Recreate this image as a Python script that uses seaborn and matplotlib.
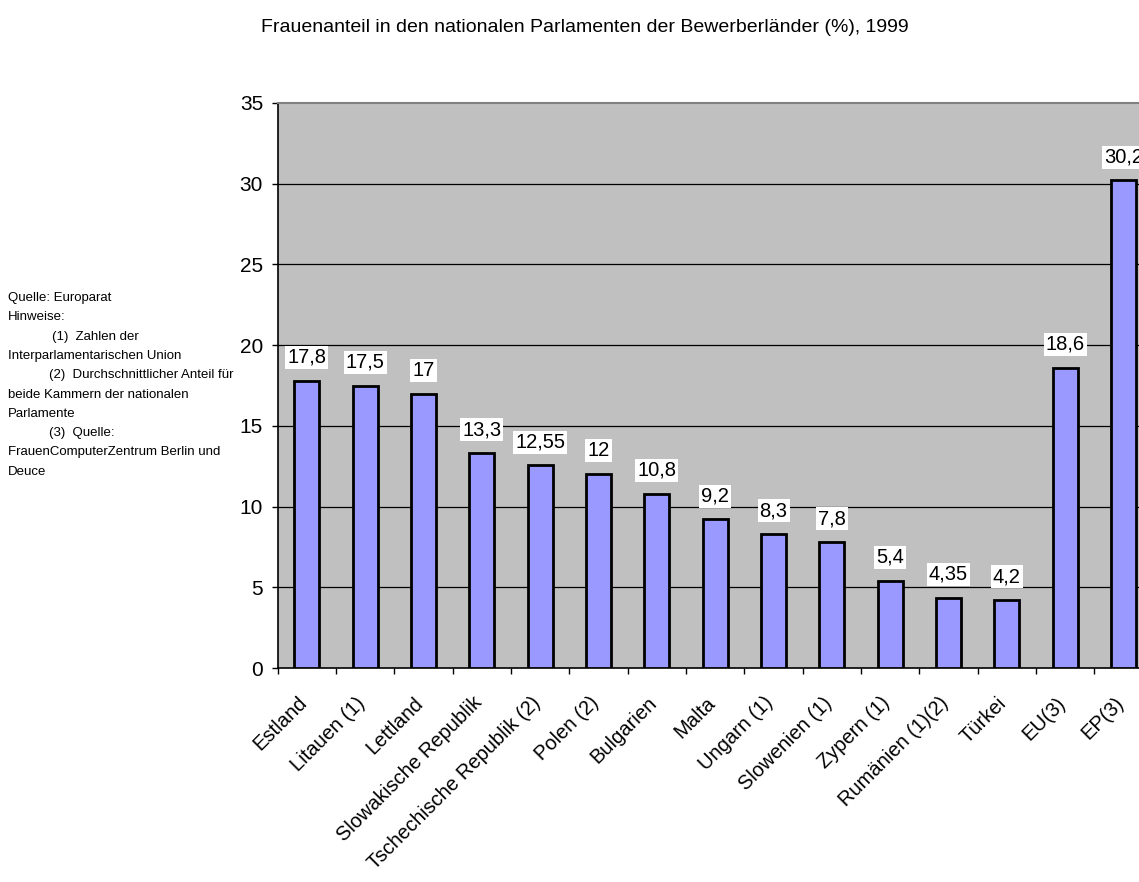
import matplotlib
matplotlib.use("Agg")
import matplotlib.pyplot as plt
import matplotlib.transforms as mtransforms
import seaborn as sns
import numpy as np

categories = ["Estland", "Litauen (1)", "Lettland", "Slowakische Republik",
              "Tschechische Republik (2)", "Polen (2)", "Bulgarien", "Malta",
              "Ungarn (1)", "Slowenien (1)", "Zypern (1)", "Rumänien (1)(2)",
              "Türkei", "EU(3)", "EP(3)"]
values = [17.8, 17.5, 17, 13.3, 12.55, 12, 10.8, 9.2, 8.3, 7.8, 5.4, 4.35, 4.2, 18.6, 30.2]
yticks = [0, 5, 10, 15, 20, 25, 30, 35]

title = "Frauenanteil in den nationalen Parlamenten der Bewerberländer (%), 1999"
notes = [
    (0.007, "Quelle: Europarat"),
    (0.007, "Hinweise:"),
    (0.046, "(1)  Zahlen der"),
    (0.007, "Interparlamentarischen Union"),
    (0.043, "(2)  Durchschnittlicher Anteil für"),
    (0.007, "beide Kammern der nationalen"),
    (0.007, "Parlamente"),
    (0.043, "(3)  Quelle:"),
    (0.007, "FrauenComputerZentrum Berlin und"),
    (0.007, "Deuce"),
]

sns.set_theme(style="white")
plt.rcParams["font.family"] = ["Liberation Sans", "DejaVu Sans"]
plt.rcParams["text.color"] = "black"
plt.rcParams["xtick.color"] = "black"
plt.rcParams["ytick.color"] = "black"
plt.rcParams["xtick.labelcolor"] = "black"
plt.rcParams["ytick.labelcolor"] = "black"

fig = plt.figure(figsize=(11.39, 8.82), dpi=100)
ax = fig.add_axes([277.7 / 1139, 1 - 668 / 882, 875 / 1139, (668 - 103) / 882])
ax.set_facecolor("#C0C0C0")

sns.barplot(x=categories, y=values, color="#9999FF", edgecolor="black",
            linewidth=2, width=0.43, saturation=1, ax=ax, zorder=3)

ax.set_xlim(-0.5, len(categories) - 0.5)
ax.set_ylim(0, 35)
ax.set_yticks(yticks)
ax.set_yticklabels([str(t) for t in yticks], fontsize=15, color="black")
for t in yticks[1:-1]:
    ax.axhline(t, color="black", linewidth=0.9, zorder=1)

ax.set_xticks(range(len(categories)))
ax.set_xticklabels(categories, rotation=45, ha="right", va="center",
                   rotation_mode="anchor", fontsize=14.5, color="black")
ax.tick_params(axis="x", which="major", length=0, pad=23)
offset = mtransforms.ScaledTranslation(-3 / 100, 0, fig.dpi_scale_trans)
for lab in ax.get_xticklabels():
    lab.set_transform(lab.get_transform() + offset)
ax.set_xticks(np.arange(-0.5, len(categories), 1.0), minor=True)
ax.tick_params(axis="x", which="minor", length=4.5, width=1, color="black", direction="out", bottom=True)
ax.tick_params(axis="y", length=4.5, width=1, color="black", direction="out", left=True, pad=6)

for side in ["left", "bottom"]:
    ax.spines[side].set_color("black")
    ax.spines[side].set_linewidth(1.2)
ax.spines["top"].set_color("#808080")
ax.spines["top"].set_linewidth(1.5)
ax.spines["right"].set_visible(False)
ax.set_xlabel("")
ax.set_ylabel("")

labels = [f"{v:g}".replace(".", ",") for v in values]
anns = ax.bar_label(ax.containers[0], labels=labels, padding=10, fontsize=14.5, color="black")
for a in anns:
    a.set_bbox(dict(facecolor="white", edgecolor="none", pad=1.5))
    a.set_zorder(5)

fig.text(585 / 1139, 1 - 27 / 882, title, ha="center", va="center", fontsize=14, color="black")

y0 = 1 - 298 / 882
dy = 19.3 / 882
for i, (x, line) in enumerate(notes):
    fig.text(x, y0 - i * dy, line, ha="left", va="center", fontsize=9.5, color="black")

fig.savefig("out.png", dpi=100)
